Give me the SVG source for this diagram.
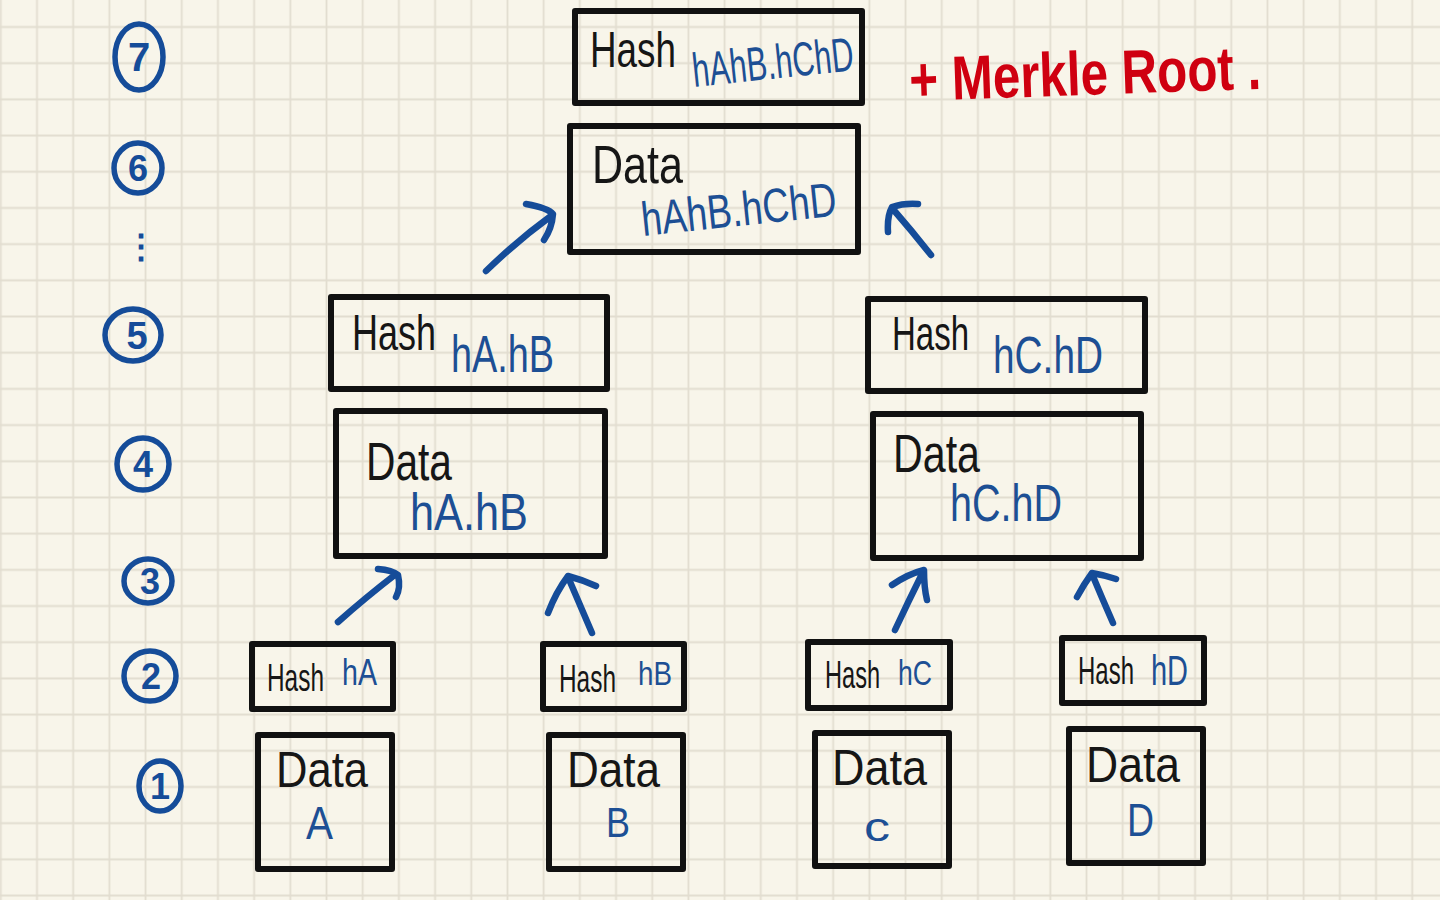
<svg xmlns="http://www.w3.org/2000/svg" width="1440" height="900" viewBox="0 0 1440 900">
  <defs>
    <pattern id="grid" x="18.9" y="8.9" width="36.19" height="36.19" patternUnits="userSpaceOnUse">
      <path d="M18.095 0V36.19M0 18.095H36.19" stroke="#e2ddd0" stroke-width="1.8" fill="none"/>
    </pattern>
    <style>
      .box{fill:none;stroke:#111;stroke-width:6;stroke-linejoin:round}
      .lbl{font-family:"Liberation Sans",Arial,sans-serif;fill:#161616}
      .val{font-family:"Liberation Sans",Arial,sans-serif;fill:#1d4f94}
      .arrow{fill:none;stroke:#154c99;stroke-width:6.5;stroke-linecap:round;stroke-linejoin:round}
      .circ{fill:none;stroke:#154c99;stroke-width:5.5}
      .num{font-family:"Liberation Sans",Arial,sans-serif;font-weight:bold;fill:#154c99;text-anchor:middle}
      .red{font-family:"Liberation Sans",Arial,sans-serif;font-weight:bold;fill:#cf0010}
    </style>
  </defs>

  <rect width="1440" height="900" fill="#f8f5ea"/>
  <rect width="1440" height="900" fill="url(#grid)"/>

  <!-- level markers -->
  <g id="levels">
    <g id="level7"><ellipse class="circ" cx="139" cy="57" rx="24" ry="33"/><text class="num" x="139" y="71" font-size="40">7</text></g>
    <g id="level6"><ellipse class="circ" cx="138" cy="168" rx="24" ry="25"/><text class="num" x="138" y="181" font-size="36">6</text></g>
    <g id="levelDots"><text class="num" x="141" y="258" font-size="34" font-family="DejaVu Sans, sans-serif">⋮</text></g>
    <g id="level5"><ellipse class="circ" cx="133" cy="335" rx="28" ry="26"/><text class="num" x="137" y="349" font-size="38">5</text></g>
    <g id="level4"><ellipse class="circ" cx="143" cy="464" rx="26" ry="26"/><text class="num" x="143" y="477" font-size="36">4</text></g>
    <g id="level3"><ellipse class="circ" cx="148" cy="581" rx="24" ry="22"/><text class="num" x="150" y="594" font-size="36">3</text></g>
    <g id="level2"><ellipse class="circ" cx="150" cy="676" rx="26" ry="25"/><text class="num" x="151" y="689" font-size="36">2</text></g>
    <g id="level1"><ellipse class="circ" cx="160" cy="786" rx="21" ry="25"/><text class="num" x="160" y="799" font-size="36">1</text></g>
  </g>

  <!-- connectors -->
  <g id="connectors">
    <path class="arrow" d="M486 271 Q518 240 551 216 M526 204 Q548 208 553 214 Q552 228 544 240"/>
    <path class="arrow" d="M931 255 Q912 231 892 208 M888 232 Q887 216 892 207 Q904 203 918 204"/>
    <path class="arrow" d="M338 622 Q365 598 396 574 M378 569 Q392 570 398 575 Q401 588 396 597"/>
    <path class="arrow" d="M592 633 Q580 605 568 577 M548 613 Q556 592 568 576 Q583 580 596 586"/>
    <path class="arrow" d="M895 630 Q909 600 923 572 M892 585 Q908 574 924 570 Q924 588 927 600"/>
    <path class="arrow" d="M1113 623 Q1102 598 1092 574 M1077 597 Q1084 584 1092 573 Q1104 575 1116 579"/>
  </g>

  <!-- root -->
  <g id="rootHash">
    <rect class="box" x="575" y="11" width="287" height="92"/>
    <text class="lbl" x="590" y="67" font-size="50" textLength="86" lengthAdjust="spacingAndGlyphs">Hash</text>
    <text class="val" x="694" y="87" font-size="48" textLength="162" lengthAdjust="spacingAndGlyphs" transform="rotate(-6 694 87)">hAhB.hChD</text>
  </g>
  <g id="rootData">
    <rect class="box" x="570" y="126" width="288" height="126"/>
    <text class="lbl" x="592" y="183" font-size="54" textLength="91" lengthAdjust="spacingAndGlyphs">Data</text>
    <text class="val" x="643" y="236" font-size="48" textLength="196" lengthAdjust="spacingAndGlyphs" transform="rotate(-6 643 236)">hAhB.hChD</text>
  </g>

  <!-- level 5/4 left -->
  <g id="hashAB">
    <rect class="box" x="331" y="297" width="276" height="92"/>
    <text class="lbl"><tspan x="352" y="350" font-size="50" textLength="84" lengthAdjust="spacingAndGlyphs">Hash</tspan><tspan class="val" x="451" y="372" font-size="52" textLength="103" lengthAdjust="spacingAndGlyphs">hA.hB</tspan></text>
  </g>
  <g id="dataAB">
    <rect class="box" x="336" y="411" width="269" height="145"/>
    <text class="lbl"><tspan x="366" y="480" font-size="54" textLength="86" lengthAdjust="spacingAndGlyphs">Data</tspan><tspan class="val" x="410" y="530" font-size="52" textLength="118" lengthAdjust="spacingAndGlyphs">hA.hB</tspan></text>
  </g>

  <!-- level 5/4 right -->
  <g id="hashCD">
    <rect class="box" x="868" y="299" width="277" height="92"/>
    <text class="lbl"><tspan x="892" y="350" font-size="48" textLength="77" lengthAdjust="spacingAndGlyphs">Hash</tspan><tspan class="val" x="993" y="373" font-size="52" textLength="110" lengthAdjust="spacingAndGlyphs">hC.hD</tspan></text>
  </g>
  <g id="dataCD">
    <rect class="box" x="873" y="414" width="268" height="144"/>
    <text class="lbl"><tspan x="893" y="472" font-size="54" textLength="87" lengthAdjust="spacingAndGlyphs">Data</tspan><tspan class="val" x="950" y="521" font-size="52" textLength="112" lengthAdjust="spacingAndGlyphs">hC.hD</tspan></text>
  </g>

  <!-- leaf hashes -->
  <g id="hashA">
    <rect class="box" x="252" y="644" width="141" height="65"/>
    <text class="lbl" font-size="24.4" transform="translate(267 691) scale(1 1.56)">Hash</text>
    <text class="val" font-size="28.6" transform="translate(342 685) scale(1 1.26)">hA</text>
  </g>
  <g id="hashB">
    <rect class="box" x="543" y="644" width="141" height="65"/>
    <text class="lbl" font-size="24.4" transform="translate(559 692) scale(1 1.56)">Hash</text>
    <text class="val" font-size="27.8" transform="translate(638 685) scale(1 1.22)">hB</text>
  </g>
  <g id="hashC">
    <rect class="box" x="808" y="642" width="142" height="66"/>
    <text class="lbl" font-size="23.6" transform="translate(825 688) scale(1 1.61)">Hash</text>
    <text class="val" font-size="26.6" transform="translate(898 685) scale(1 1.35)">hC</text>
  </g>
  <g id="hashD">
    <rect class="box" x="1062" y="638" width="142" height="65"/>
    <text class="lbl" font-size="24" transform="translate(1078 684) scale(1 1.58)">Hash</text>
    <text class="val" font-size="29" transform="translate(1151 685) scale(1 1.45)">hD</text>
  </g>

  <!-- leaf data -->
  <g id="dataA">
    <rect class="box" x="258" y="735" width="134" height="134"/>
    <text class="lbl"><tspan x="276" y="787" font-size="50" textLength="92" lengthAdjust="spacingAndGlyphs">Data</tspan><tspan class="val" x="306" y="839" font-size="46" textLength="27" lengthAdjust="spacingAndGlyphs">A</tspan></text>
  </g>
  <g id="dataB">
    <rect class="box" x="549" y="735" width="134" height="134"/>
    <text class="lbl"><tspan x="567" y="787" font-size="50" textLength="93" lengthAdjust="spacingAndGlyphs">Data</tspan><tspan class="val" x="606" y="837" font-size="42" textLength="24" lengthAdjust="spacingAndGlyphs">B</tspan></text>
  </g>
  <g id="dataC">
    <rect class="box" x="815" y="733" width="134" height="133"/>
    <text class="lbl"><tspan x="832" y="785" font-size="50" textLength="95" lengthAdjust="spacingAndGlyphs">Data</tspan><tspan class="val" x="864" y="841" font-size="40" textLength="26" lengthAdjust="spacingAndGlyphs">c</tspan></text>
  </g>
  <g id="dataD">
    <rect class="box" x="1069" y="729" width="134" height="134"/>
    <text class="lbl"><tspan x="1086" y="782" font-size="50" textLength="94" lengthAdjust="spacingAndGlyphs">Data</tspan><tspan class="val" x="1127" y="836" font-size="46" textLength="27" lengthAdjust="spacingAndGlyphs">D</tspan></text>
  </g>

  <!-- annotation -->
  <g id="annotation">
    <text class="red" x="910" y="101" font-size="62" textLength="352" lengthAdjust="spacingAndGlyphs" transform="rotate(-2 910 101)">+ Merkle Root .</text>
  </g>
</svg>
